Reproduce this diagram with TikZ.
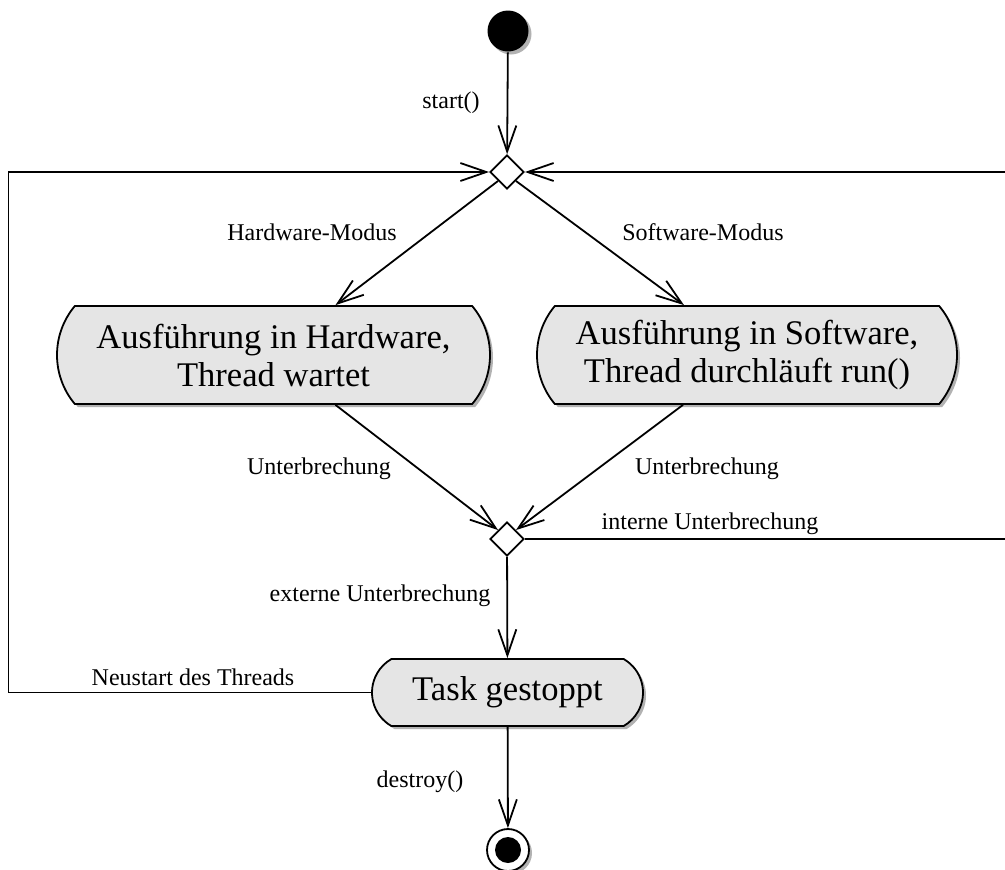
\documentclass[tikz,border=0pt]{standalone}
\usepackage{fontspec}
\setmainfont{Liberation Serif}
\usetikzlibrary{shapes.geometric,shapes.misc,shadows,arrows.meta,calc}

\begin{document}
\begin{tikzpicture}[x=0.5pt,y=-0.5pt,
  line width=0.9pt,
  flow/.style={-{Straight Barb[length=13pt,width=9pt,line width=0.9pt]}},
  lbl/.style={font=\fontsize{12}{14}\selectfont, inner sep=0pt},
  shade3/.style={drop shadow={shadow xshift=1.5pt,shadow yshift=-1.5pt,fill=gray!60,opacity=1}},
  act/.style={rounded rectangle, rounded rectangle arc length=80, draw, fill=gray!20,
    shade3, font=\fontsize{17.28}{19}\selectfont, align=center, inner sep=0pt},
  choice/.style={diamond, draw, fill=white, minimum width=17pt, minimum height=17pt, inner sep=0pt},
  initial/.style={circle, fill=black, minimum size=20.5pt, inner sep=0pt, shade3},
  final/.style={circle, draw, fill=white, minimum size=21pt, inner sep=0pt, shade3},
  finaldot/.style={circle, fill=black, minimum size=13pt, inner sep=0pt},
]
\useasboundingbox (0,0) rectangle (1005,869);

% states and decisions
\node[initial] (init) at (508,31) {};
\node[choice] (d1) at (507,172) {};
\node[act, minimum width=216.5pt, minimum height=49pt] (hw) at (273.5,355)
  {Ausführung in Hardware,\\Thread wartet};
\node[act, minimum width=210pt, minimum height=49pt] (sw) at (747,355)
  {Ausführung in Software,\\Thread durchläuft run()};
\node[choice] (d2) at (507,539) {};
\node[act, rounded rectangle arc length=120, minimum width=135.5pt, minimum height=33.5pt]
  (task) at (507.5,692.5) {Task gestoppt};
\node[final] (fin) at (508,850) {};
\node[finaldot] (findot) at (fin) {};

% helper columns for the two loops
\coordinate (lc) at (8.5,0);
\coordinate (rc) at (1012,0);

% transitions
\draw[flow] (init) -- (d1);
\draw[flow] (d1.south west) -- ([xshift=31pt]hw.north);
\draw[flow] (d1.south east) -- ([xshift=-31.5pt]sw.north);
\draw[flow] ([xshift=31pt]hw.south) -- (d2.north west);
\draw[flow] ([xshift=-32pt]sw.south) -- (d2.north east);
\draw[flow] (d2) -- (task);
\draw[flow] (task) -- (fin);
\draw[flow] (task.west) -- (task.west -| lc) |- (d1.west);
\draw[flow] (d2.east) -- (d2.east -| rc) |- (d1.east);

% transition labels
\node[lbl] (l1) at (451,103) {start()};
\node[lbl] (l2) at (312,232) {Hardware-Modus};
\node[lbl] (l3) at (703,232) {Software-Modus};
\node[lbl] (l4) at (319,469) {Unterbrechung};
\node[lbl] (l5) at (707,469) {Unterbrechung};
\node[lbl] (l6) at (710,524) {interne Unterbrechung};
\node[lbl] (l7) at (380,596) {externe Unterbrechung};
\node[lbl] (l8) at (193,677) {Neustart des Threads};
\node[lbl] (l9) at (420,782) {destroy()};
\end{tikzpicture}
\end{document}
